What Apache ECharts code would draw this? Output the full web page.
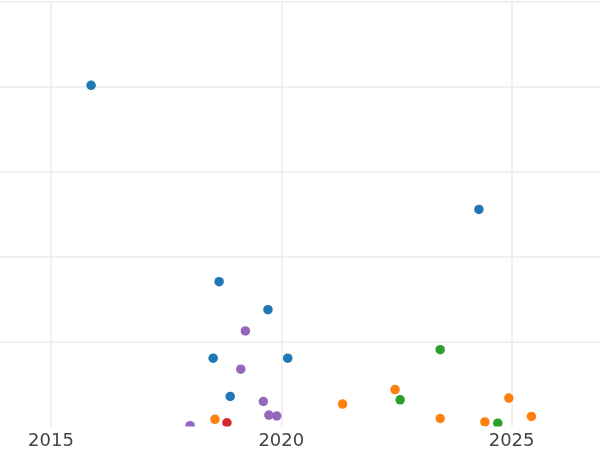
<!DOCTYPE html>
<html>
<head>
<meta charset="utf-8">
<script src="https://cdn.jsdelivr.net/npm/echarts@6/dist/echarts.min.js"></script>
<style>
html,body{margin:0;padding:0;background:#fff;}
#chart{width:600px;height:450px;}
</style>
</head>
<body>
<div id="chart"></div>
<script>
// Data (x = year, y = value in grid units)
const blueX = [2015.87, 2024.29, 2018.65, 2019.71, 2018.52, 2020.14, 2018.89];
const blueY = [40.2, 25.6, 17.1, 13.8, 8.1, 8.1, 3.6];
const orangeX = [2018.56, 2021.33, 2022.47, 2023.45, 2024.42, 2024.94, 2025.43];
const orangeY = [0.9, 2.7, 4.4, 1.0, 0.6, 3.4, 1.25];
const greenX = [2023.45, 2022.58, 2024.70];
const greenY = [9.1, 3.2, 0.45];
const redX = [2018.82];
const redY = [0.5];
const purpleX = [2019.22, 2019.12, 2019.61, 2019.73, 2019.90, 2018.02];
const purpleY = [11.3, 6.8, 3.0, 1.4, 1.3, 0.15];
const xTicks = [2010, 2015, 2020, 2025, 2030];

function pts(xs, ys) { return xs.map((x, i) => [x, ys[i]]); }

const chart = echarts.init(document.getElementById('chart'), null, {renderer: 'canvas'});
const pxPerYear = 46.06;
const gridLeft = 51 - (2015 - xTicks[0]) * pxPerYear;
const gridWidth = (xTicks[xTicks.length - 1] - xTicks[0]) * pxPerYear;

const mk = (name, xs, ys, color) => ({
  name, type: 'scatter', data: pts(xs, ys), symbolSize: 9.5,
  itemStyle: {color, opacity: 1}, xAxisIndex: 0, yAxisIndex: 0, z: 2, clip: false
});

chart.setOption({
  animation: false,
  backgroundColor: '#fff',
  grid: {left: gridLeft, top: 2, width: gridWidth, height: 425, containLabel: false, outerBoundsMode: 'none'},
  xAxis: [{
    type: 'value', min: xTicks[0], max: xTicks[xTicks.length - 1], interval: 5,
    axisLine: {show: false}, axisTick: {show: false}, axisLabel: {show: false},
    splitLine: {show: true, lineStyle: {color: '#ebebeb', width: 1.5}}, z: 0
  }, {
    type: 'value', min: xTicks[0], max: xTicks[xTicks.length - 1], interval: 5,
    position: 'bottom',
    axisLine: {show: false}, axisTick: {show: false}, splitLine: {show: false},
    axisLabel: {show: true, color: '#444', fontSize: 18, fontFamily: 'DejaVu Sans', margin: 5,
      formatter: v => String(v)},
    z: 10
  }],
  yAxis: {
    type: 'value', min: 0, max: 50, interval: 10,
    axisLine: {show: false}, axisTick: {show: false}, axisLabel: {show: false},
    splitLine: {show: true, showMinLine: false, lineStyle: {color: '#ebebeb', width: 1.5}}
  },
  graphic: [{
    type: 'rect', shape: {x: 0, y: 426.5, width: 600, height: 30},
    style: {fill: '#fff'}, z: 5, silent: true
  }],
  series: [
    mk('blue', blueX, blueY, '#1f77b4'),
    mk('orange', orangeX, orangeY, '#ff7f0e'),
    mk('green', greenX, greenY, '#2ca02c'),
    mk('red', redX, redY, '#d62728'),
    mk('purple', purpleX, purpleY, '#9467bd')
  ]
});
</script>
</body>
</html>
